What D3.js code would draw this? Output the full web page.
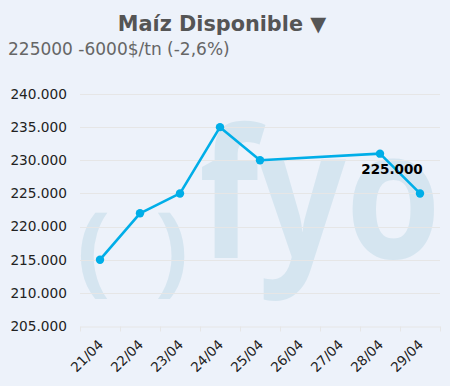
<!DOCTYPE html>
<html><head><meta charset="utf-8">
<script src="https://cdn.jsdelivr.net/npm/d3@7"></script>
<style>
html,body{margin:0;padding:0;background:#edf2fa;}
svg{display:block;}
</style></head><body>
<svg id="c" width="450" height="386"></svg>
<script>
const categories = ["21/04","22/04","23/04","24/04","25/04","26/04","27/04","28/04","29/04"];
const seriesDates = ["21/04","22/04","23/04","24/04","25/04","28/04","29/04"];
const seriesValues = [215000,222000,225000,235000,230000,231000,225000];
const yTicks = [205000,210000,215000,220000,225000,230000,235000,240000];
const titleText = "Maíz Disponible ▼";
const subtitleText = "225000 -6000$/tn (-2,6%)";

const W = 450, H = 386;
const m = {left:80, right:10, top:94, bottom:60};
const svg = d3.select("#c");
svg.append("rect").attr("width",W).attr("height",H).attr("fill","#edf2fa");

const loc = d3.formatLocale({decimal:",", thousands:".", grouping:[3], currency:["$",""]});
const fmt = loc.format(",.0f");

const x = d3.scaleBand().domain(categories).range([m.left, W - m.right]);
const y = d3.scaleLinear().domain([205000,240000]).range([H - m.bottom, m.top]);

// watermark (logo)
const wm = svg.append("g").attr("fill","#d5e5f0").attr("font-family","Open Sans, DejaVu Sans, sans-serif").attr("font-weight","bold");
wm.append("text").attr("x",77).attr("y",283).attr("font-size",98).text("(");
wm.append("text").attr("x",155).attr("y",283).attr("font-size",98).text(")");
wm.append("text").attr("x",199).attr("y",258).attr("font-size",180)
  .attr("textLength",242).attr("lengthAdjust","spacingAndGlyphs").text("fyo");

// grid
svg.append("g").selectAll("line").data(yTicks.slice(1)).join("line")
  .attr("x1",m.left).attr("x2",W-m.right)
  .attr("y1",d=>Math.round(y(d))+0.5).attr("y2",d=>Math.round(y(d))+0.5)
  .attr("stroke","#e6e6e6").attr("stroke-width",1);

// y axis labels
const yAxis = d3.axisLeft(y).tickValues(yTicks).tickFormat(fmt).tickSize(0).tickPadding(13);
const ya = svg.append("g").attr("transform",`translate(${m.left},0)`).call(yAxis);
ya.select(".domain").remove();
ya.selectAll("text").attr("font-family","DejaVu Sans, Verdana, sans-serif").attr("font-size",13.7).attr("fill","#222");

// x axis
const xAxis = d3.axisBottom(x).tickSize(0).tickPadding(0);
const xa = svg.append("g").attr("transform",`translate(0,${Math.round(y(205000))+0.5})`).call(xAxis);
xa.select(".domain").attr("stroke","#e6e6e6");
xa.selectAll(".tick line").remove();
const bounds = categories.map(c=>x(c)).concat([x(categories[categories.length-1])+x.bandwidth()]);
xa.selectAll("line.bt").data(bounds).join("line").attr("class","bt")
  .attr("x1",d=>Math.round(d)+0.5).attr("x2",d=>Math.round(d)+0.5).attr("y1",0).attr("y2",5)
  .attr("stroke","#e6e6e6");
xa.selectAll(".tick text")
  .attr("font-family","DejaVu Sans, Verdana, sans-serif").attr("font-size",13.5).attr("fill","#222")
  .attr("text-anchor","end").attr("dy",0)
  .attr("transform","translate(4,19) rotate(-45)");

// line
const pts = seriesDates.map((d,i)=>({d, v:seriesValues[i]}));
const cx = d => x(d.d) + x.bandwidth()/2;
svg.append("path").datum(pts)
  .attr("d", d3.line().x(cx).y(d=>y(d.v)))
  .attr("fill","none").attr("stroke","#00aee8").attr("stroke-width",2.6).attr("stroke-linejoin","round");
svg.append("g").selectAll("circle").data(pts).join("circle")
  .attr("cx",cx).attr("cy",d=>y(d.v)).attr("r",4.2).attr("fill","#00aee8");

// data label for last point
const last = pts[pts.length-1];
svg.append("text").attr("x",cx(last)-28).attr("y",y(last.v)-19)
  .attr("text-anchor","middle").attr("font-family","DejaVu Sans, Verdana, sans-serif")
  .attr("font-weight","bold").attr("font-size",13.5).attr("fill","#000").text(fmt(last.v));

// title
svg.append("text").attr("x",222).attr("y",31).attr("text-anchor","middle")
  .attr("font-family","DejaVu Sans, Verdana, sans-serif").attr("font-weight","bold")
  .attr("font-size",20.8).attr("fill","#555").text(titleText);
svg.append("text").attr("x",8).attr("y",55)
  .attr("font-family","DejaVu Sans, Verdana, sans-serif")
  .attr("font-size",17).attr("fill","#666").text(subtitleText);
</script>
</body></html>
